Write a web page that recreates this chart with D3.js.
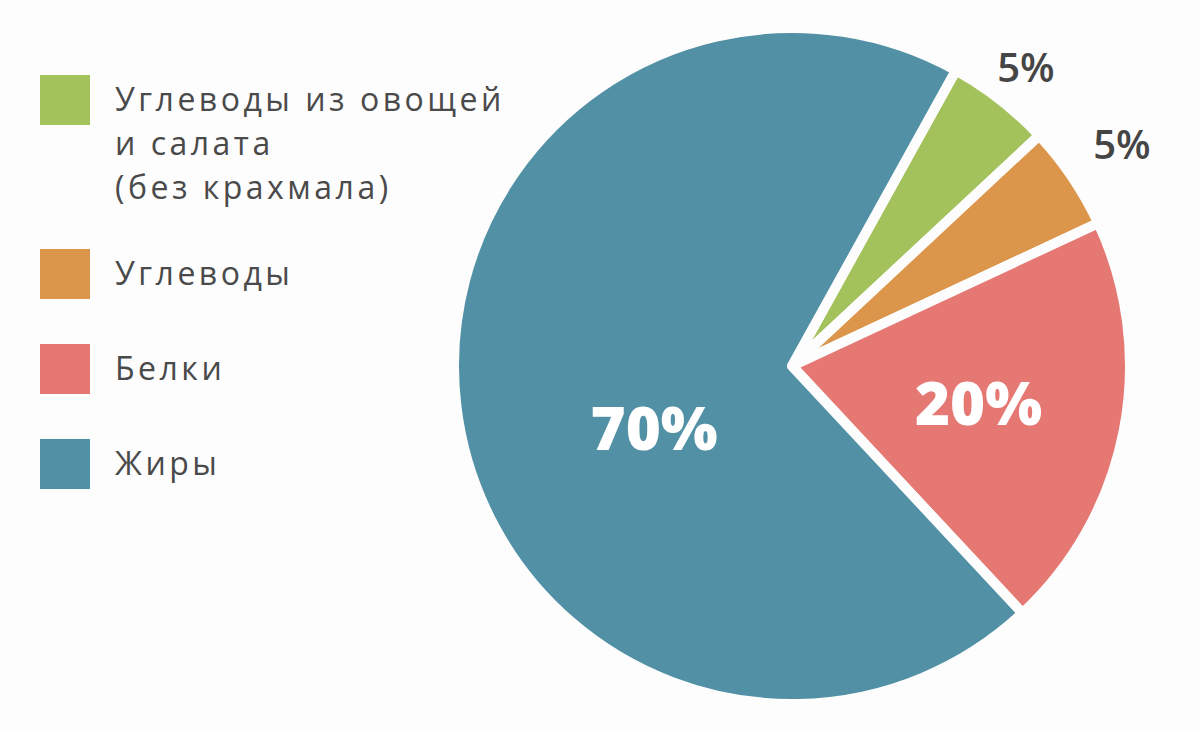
<!DOCTYPE html>
<html><head><meta charset="utf-8">
<script src="https://cdn.jsdelivr.net/npm/d3@7"></script>
<style>
html,body{margin:0;padding:0;background:#fdfdfd;}
svg{display:block;}
</style></head>
<body>
<svg id="c" width="1200" height="731"></svg>
<script>
// Data
const categories = ["Углеводы из овощей и салата (без крахмала)", "Углеводы", "Белки", "Жиры"];
const legendLines = [["Углеводы из овощей", "и салата", "(без крахмала)"], ["Углеводы"], ["Белки"], ["Жиры"]];
const values = [5, 5, 20, 70];
const valueLabels = ["5%", "5%", "20%", "70%"];
const colors = ["#a3c25b", "#dc964c", "#e67873", "#5190a5"];

const svg = d3.select("#c");
svg.append("rect").attr("width", 1200).attr("height", 731).attr("fill", "#fdfdfd");

const cx = 792, cy = 366, R = 338;
const deg = Math.PI / 180;
const pie = d3.pie().sort(null).value(d => d).startAngle(29 * deg).endAngle(389 * deg);
const arcs = pie(values);
const arc = d3.arc().innerRadius(0).outerRadius(R);

const g = svg.append("g").attr("transform", `translate(${cx},${cy})`);
g.selectAll("path").data(arcs).enter().append("path")
  .attr("d", arc)
  .attr("fill", (d, i) => colors[i])
  .attr("stroke", "#fdfdfd")
  .attr("stroke-width", 10)
  .attr("stroke-linejoin", "round");

// label placement: radius per slice, inside labels white, outside labels dark
const labelRadius = [380, 398, 190, 152];
const labelShift = [[0, 0], [0, 0], [0, 0], [13, 42]];
const inside = [false, false, true, true];
g.selectAll("text.lbl").data(arcs).enter().append("text")
  .attr("class", "lbl")
  .attr("transform", (d, i) => {
    const a = d3.arc().innerRadius(labelRadius[i]).outerRadius(labelRadius[i]);
    const c = a.centroid(d);
    return `translate(${c[0] + labelShift[i][0]},${c[1] + labelShift[i][1]})`;
  })
  .attr("text-anchor", "middle")
  .attr("dominant-baseline", "central")
  .attr("font-family", "'Open Sans', sans-serif")
  .attr("font-weight", (d, i) => inside[i] ? 800 : 600)
  .attr("font-size", (d, i) => inside[i] ? 60 : 40)
  .attr("fill", (d, i) => inside[i] ? "#ffffff" : "#454545")
  .text((d, i) => valueLabels[i]);

// Legend
const legendY = [75, 249, 344, 439];
const lg = svg.append("g");
legendLines.forEach((lines, i) => {
  lg.append("rect").attr("x", 40).attr("y", legendY[i]).attr("width", 50).attr("height", 50)
    .attr("fill", colors[i]);
  lines.forEach((ln, j) => {
    lg.append("text")
      .attr("x", 115).attr("y", legendY[i] + 36 + j * 44)
      .attr("font-family", "'Open Sans', sans-serif")
      .attr("font-size", 32)
      .attr("fill", "#4a4a4a")
      .attr("letter-spacing", 3.5)
      .text(ln);
  });
});
</script>
</body></html>
